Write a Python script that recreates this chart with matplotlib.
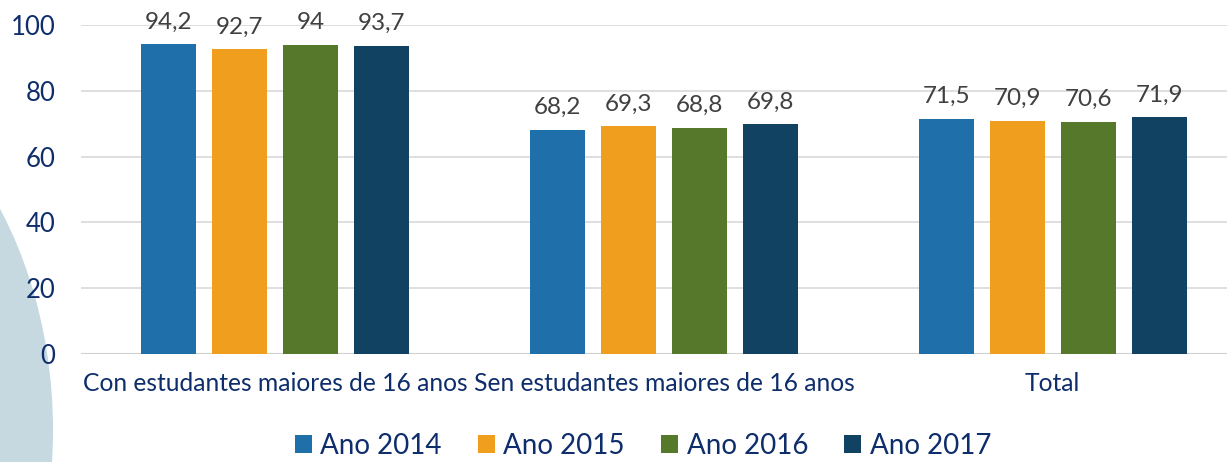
import matplotlib
matplotlib.use("Agg")
import matplotlib.pyplot as plt
import numpy as np
from matplotlib.patches import Ellipse

categories = ["Con estudantes maiores de 16 anos", "Sen estudantes maiores de 16 anos", "Total"]
series_names = ["Ano 2014", "Ano 2015", "Ano 2016", "Ano 2017"]
v2014 = [94.2, 68.2, 71.5]
v2015 = [92.7, 69.3, 70.9]
v2016 = [94.0, 68.8, 70.6]
v2017 = [93.7, 69.8, 71.9]
labels2014 = ["94,2", "68,2", "71,5"]
labels2015 = ["92,7", "69,3", "70,9"]
labels2016 = ["94", "68,8", "70,6"]
labels2017 = ["93,7", "69,8", "71,9"]
yticks = [0, 20, 40, 60, 80, 100]

values = [v2014, v2015, v2016, v2017]
labels = [labels2014, labels2015, labels2016, labels2017]
colors = ["#1F6FAA", "#F09E1E", "#56782A", "#124262"]

plt.rcParams['font.family'] = ['Lato', 'DejaVu Sans']

W, H = 1227, 462
fig = plt.figure(figsize=(W/100, H/100), dpi=100)

# faint watercolor-like backdrop on the left
bg = fig.add_axes([0, 0, 1, 1], zorder=-5)
bg.set_xlim(0, W); bg.set_ylim(H, 0); bg.axis('off')
bg.add_patch(Ellipse((-247, 430), 600, 780, color="#c6d9e0", lw=0))
bg.axvspan(53, W, color="white", lw=0, zorder=1)

left_px, right_px = 81, 1247
top_px, bottom_px = 25, 354
ax = fig.add_axes([left_px/W, 1 - bottom_px/H, (right_px-left_px)/W, (bottom_px-top_px)/H])
ax.patch.set_alpha(0)

x = np.arange(len(categories))
pitch = 0.1828
bw = 0.1416
for i, (vals, labs, c, name) in enumerate(zip(values, labels, colors, series_names)):
    pos = x + (i - 1.5) * pitch
    ax.bar(pos, vals, bw, color=c, label=name, zorder=3)
    for p, v, l in zip(pos, vals, labs):
        ax.text(p, v + 3.5, l, ha='center', va='bottom', fontsize=17.5, color="#404040")

ax.set_xlim(-0.5, 2.5)
ax.set_ylim(0, 100)
ax.set_yticks(yticks)
ax.set_yticklabels([str(t) for t in yticks], fontsize=18.5, color="#0E2D6B")
ax.set_xticks(x)
ax.set_xticklabels(categories, fontsize=17.7, color="#0E2D6B")
ax.tick_params(axis='both', length=0)
ax.tick_params(axis='y', pad=18.5)
ax.tick_params(axis='x', pad=13)
ax.grid(axis='y', color="#d9d9d9", lw=1.2, zorder=0)
for s in ax.spines.values():
    s.set_visible(False)
ax.axhline(0, color="#d0d0d0", lw=1.5, zorder=2)

leg = fig.legend(loc='center', bbox_to_anchor=(643/W, 1 - 446/H), ncol=4, frameon=False,
                 fontsize=20, handlelength=0.62, handleheight=0.62, handletextpad=0.3,
                 columnspacing=1.3)
for t in leg.get_texts():
    t.set_color("#0E2D6B")

fig.savefig("out.png", dpi=100)
